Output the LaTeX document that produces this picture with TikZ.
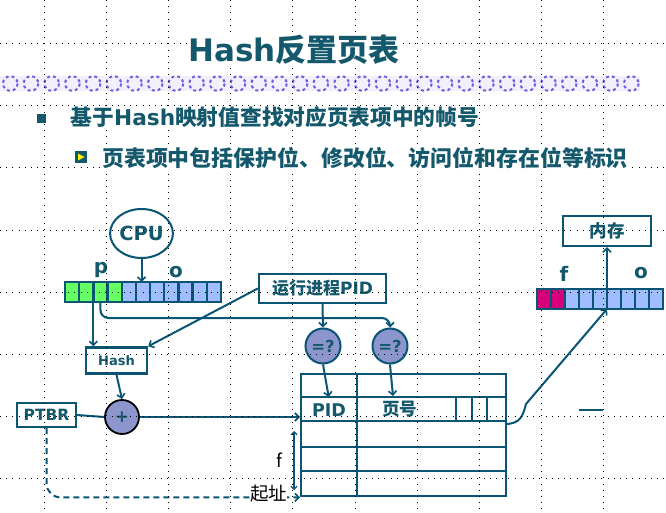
\documentclass[tikz,border=0pt]{standalone}
\usepackage{fontspec}
\setmainfont{DejaVu Sans}
\newfontfamily\cjk{Noto Sans CJK SC}
\usetikzlibrary{shapes.geometric,arrows.meta,calc}
\definecolor{tc}{RGB}{20,88,108}
\definecolor{lc}{RGB}{10,85,115}
\definecolor{cf}{RGB}{140,150,205}
\definecolor{gc}{RGB}{102,255,102}
\definecolor{bc}{RGB}{160,190,255}
\definecolor{mc}{RGB}{215,0,125}
\definecolor{pc}{RGB}{115,90,225}
\definecolor{bandbg}{RGB}{242,240,252}
\newcommand{\zh}[1]{{\cjk #1}}
\newcommand{\fs}[1]{\fontsize{#1}{#1}\selectfont}
\begin{document}
\begin{tikzpicture}[x=1pt,y=-1pt,
  conn/.style={draw=lc,line width=2pt},
  arr/.style={conn,-{Straight Barb[length=4pt,width=8pt,line width=1.6pt]}},
  box/.style={draw=lc,line width=2.4pt,fill=white,text=tc,inner sep=0},
  cell/.style={draw=lc,line width=2.4pt,minimum width=14.18pt,minimum height=20pt,inner sep=0,outer sep=0},
  cellb/.style={draw=lc,line width=2.4pt,minimum width=14pt,minimum height=20pt,inner sep=0,outer sep=0},
  ring/.style={circle,draw=lc,line width=2pt,fill=cf,inner sep=0,text=tc},
  lbl/.style={text=tc,inner sep=0,anchor=base},
  gridline/.style={draw=black,line width=1pt,dash pattern=on 1pt off 5.2pt},
  tline/.style={draw=lc,line width=2.4pt},
  toptext/.style={anchor=west,fill=white,inner sep=0,text=tc}
]
\useasboundingbox[fill=white] (0,0) rectangle (666,513);

% decorative band
\fill[bandbg] (0,76) rectangle (640,91);
\foreach \i in {0,...,30}
  \draw[pc,line width=2pt,dash pattern=on 3pt off 2.9pt] ({10.3+20.7*\i},83.5) circle (7.3);

% CPU and logical address register
\node[ellipse,draw=lc,line width=2pt,fill=white,minimum width=57pt,minimum height=49pt,inner sep=0,text=tc,font=\bfseries\fs{19.5}] (cpu) at (141.5,233.5) {CPU};
\foreach \i in {1,...,4}
  \node[cell,fill=gc] (r1c\i) at ({65+(\i-0.5)*14.18},292) {};
\foreach \i in {5,...,11}
  \node[cell,fill=bc] (r1c\i) at ({65+(\i-0.5)*14.18},292) {};
\node[lbl,font=\bfseries\fs{20}] (plab) at (101,273) {p};
\node[lbl,font=\bfseries\fs{20}] (olab) at (176,277) {o};

% boxes
\node[box,minimum width=61pt,minimum height=26pt,font=\bfseries\fs{13}] (hash) at (116.5,360.5) {Hash};
\node[box,minimum width=59pt,minimum height=24pt,font=\bfseries\fs{15.5}] (ptbr) at (46.5,415) {PTBR};
\node[circle,draw=black,line width=1.8pt,fill=cf,minimum size=34pt,inner sep=0,text=tc,font=\bfseries\fs{17}] (plus) at (122,417) {+};
\node[box,minimum width=127pt,minimum height=29pt,font=\bfseries\fs{17}] (pidbox) at (322.5,288.5) {\zh{运行进程}PID};
\node[ring,minimum size=35pt,font=\bfseries\fs{16.5}] (eq1) at (323,346) {=?};
\node[ring,minimum size=35pt,font=\bfseries\fs{16.5}] (eq2) at (390,346) {=?};
\node[box,minimum width=88pt,minimum height=30pt,font=\bfseries\fs{17.5}] (mem) at (607,231) {\zh{内存}};

% physical address register
\foreach \i in {1,...,2}
  \node[cellb,fill=mc] (r2c\i) at ({537+(\i-0.5)*14},299) {};
\foreach \i in {3,...,9}
  \node[cellb,fill=bc] (r2c\i) at ({537+(\i-0.5)*14},299) {};
\node[lbl,font=\bfseries\fs{20}] (flab2) at (564,281) {f};
\node[lbl,font=\bfseries\fs{20}] (olab2) at (641,278) {o};

% page table
\node[draw=lc,line width=2.4pt,minimum width=205pt,minimum height=122pt,anchor=north west,inner sep=0] (tbl) at (300,373) {};
\draw[tline] (300,397) -- (505,397);
\draw[tline] (300,421) -- (505,421);
\draw[tline] (300,447) -- (505,447);
\draw[tline] (300,471) -- (505,471);
\draw[tline] (357,373) -- (357,495);
\draw[tline] (456,397) -- (456,421);
\draw[tline] (472,397) -- (472,421);
\draw[tline] (487,397) -- (487,421);
\node[inner sep=0,minimum width=57pt,minimum height=24pt,anchor=north west] (pidcell) at (300,397) {};
\node[text=tc,font=\bfseries\fs{17.5}] (pidtxt) at (329,410) {PID};
\node[text=tc,font=\bfseries\fs{17.5}] (pgtxt) at (399.5,409) {\zh{页号}};
\coordinate (pgtop) at (393,396);

% connectors
\coordinate (bus) at (0,318);
\draw[arr] (cpu.south) -- (cpu.south |- r1c6.north);
\draw[arr] (r1c3.south west) -- (r1c3.south west |- hash.north);
\draw[arr,rounded corners=8pt] (r1c3.south) |- (eq2.north |- bus) -- (eq2.north);
\draw[arr] (pidbox.south) -- (eq1.north);
\draw[arr] (pidbox.west) -- (hash.north east);
\draw[arr] (hash.south) -- (plus.north);
\draw[conn] (ptbr.east) -- (plus.west);
\draw[arr] (plus.east) -- (tbl.west |- plus.east);
\draw[arr,dash pattern=on 6pt off 4pt,rounded corners=14pt] (ptbr.south) |- (tbl.south west);
\draw[arr] (eq1.south) -- (pidcell.north);
\draw[arr] (eq2.south) -- (pgtop);
\coordinate (fa) at (294,431);
\coordinate (fb) at (294,490);
\draw[draw=lc,line width=1.5pt,{Straight Barb[length=3pt,width=6pt,line width=1.2pt]}-{Straight Barb[length=3pt,width=6pt,line width=1.2pt]}] (fa) -- (fb);
\node[font=\cjk\fs{18},inner sep=0] (flab) at (279,460) {f};
\node[font=\cjk\fs{18.5},fill=white,inner sep=0] (qz) at (268.5,494) {起址};
\coordinate (tout) at (505,424);
\draw[arr] (tout) .. controls (521,424) and (523,415) .. (526,404) -- (r2c6.south west);
\draw[arr] (r2c6.north west) -- (r2c6.north west |- mem.south);
\coordinate (d1) at (579,410);
\coordinate (d2) at (603,410);
\draw[conn,line width=2.8pt] (d1) -- (d2);

% dotted grid
\foreach \k in {0,...,9}
  \draw[gridline] ({44+62.2*\k},0) -- ({44+62.2*\k},513);
\foreach \k in {0,...,7}
  \draw[gridline] (0,{43.5+62.2*\k}) -- (666,{43.5+62.2*\k});

% title and bullets
\node[toptext,font=\bfseries\fs{31}] (title) at (188,50) {Hash\zh{反置页表}};
\node[fill=tc,minimum size=9pt,inner sep=0] (b1) at (41.5,119) {};
\node[toptext,font=\bfseries\fs{21.7}] (t1) at (70.5,117) {\zh{基于}Hash\zh{映射值查找对应页表项中的帧号}};
\node[fill=tc,minimum size=12pt,inner sep=0] (b2) at (81,157) {};
\fill[yellow] (78,153.5) -- (84.5,157) -- (78,160.5) -- cycle;
\node[toptext,font=\bfseries\fs{21.9}] (t2) at (102,158) {\zh{页表项中包括保护位、修改位、访问位和存在位等标识}};
\end{tikzpicture}
\end{document}
